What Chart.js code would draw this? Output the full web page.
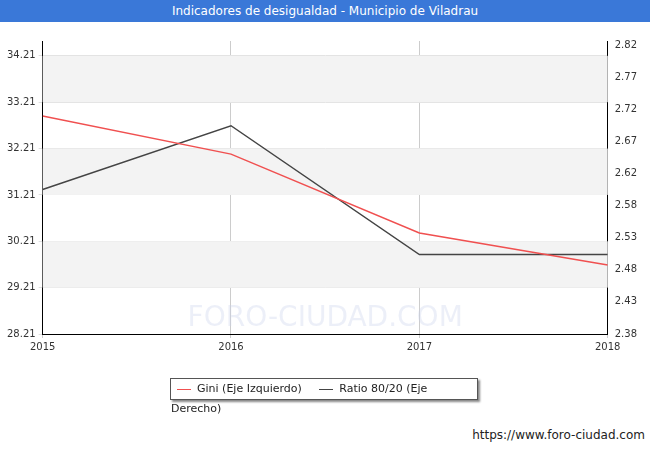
<!DOCTYPE html><html><head><script src="https://cdn.jsdelivr.net/npm/chart.js@4"></script>
<style>body{margin:0;width:650px;height:450px;background:#fff;font-family:"DejaVu Sans",sans-serif;position:relative;overflow:hidden}
#t{position:absolute;left:0;top:0;width:650px;height:22px;background:#3a78d8;color:#fff;font-size:12px;text-align:center;line-height:22px}
#f{position:absolute;right:5px;top:428px;font-size:12px;color:#222}
#c{position:absolute;left:0;top:22px}
#lg{position:absolute;left:170px;top:378px;width:306px;height:20px;border:1px solid #555;box-shadow:2px 2px 2px #888;font-size:11px;color:#222;line-height:20px;background:#fff}
#lg span{display:inline-block;width:14px;height:0;border-top:1.5px solid;vertical-align:middle;margin:0 6px 0 6px}</style></head><body>
<div id="t">Indicadores de desigualdad - Municipio de Viladrau</div>
<div id="c"><canvas id="cv" width="650" height="400"></canvas></div>
<div id="lg"><span style="border-color:#f05050"></span>Gini (Eje Izquierdo) <span style="border-color:#444;margin-left:14px"></span>Ratio 80/20 (Eje Derecho)</div>
<div id="f">https://www.foro-ciudad.com</div>
<script>
const years=[2015,2016,2017,2018];
const gini=[32.91,32.09,30.39,29.70];
const ratio=[2.600,2.697,2.501,2.501];
const leftTicks=[28.21,29.21,30.21,31.21,32.21,33.21,34.21];
const rightTicks=[2.38,2.43,2.48,2.53,2.58,2.62,2.67,2.72,2.77,2.82];
const bands={id:'bands',beforeDatasetsDraw(c){const {ctx,chartArea:a,scales:{y}}=c;ctx.save();ctx.fillStyle='#f3f3f3';
for(const [lo,hi] of [[29.21,30.21],[31.21,32.21],[33.21,34.21]]){const t=y.getPixelForValue(hi),b=y.getPixelForValue(lo);ctx.fillRect(a.left,t,a.right-a.left,b-t);}
ctx.font='28px "DejaVu Sans"';ctx.fillStyle='rgba(200,210,235,0.35)';ctx.textAlign='center';ctx.fillText('FORO-CIUDAD.COM',(a.left+a.right)/2,a.bottom-8);ctx.restore();}};
const lin=(mn,mx,n)=>Array.from({length:n},(_,i)=>mn+i*(mx-mn)/(n-1));
const f={size:10,family:'DejaVu Sans'};
new Chart(document.getElementById('cv'),{type:'line',
data:{datasets:[
{label:'Gini (Eje Izquierdo)',data:years.map((x,i)=>({x,y:gini[i]})),borderColor:'#f05050',borderWidth:1.5,pointRadius:0,yAxisID:'y',tension:0},
{label:'Ratio 80/20 (Eje Derecho)',data:years.map((x,i)=>({x,y:ratio[i]})),borderColor:'#444',borderWidth:1.5,pointRadius:0,yAxisID:'y2',tension:0}]},
options:{responsive:false,animation:false,layout:{padding:{left:4,right:10,top:19,bottom:66}},
plugins:{legend:{display:false},tooltip:{enabled:false}},
scales:{x:{type:'linear',min:2015,max:2018,afterBuildTicks:s=>{s.ticks=years.map(v=>({value:v}))},ticks:{callback:v=>String(v),font:f,color:'#333',maxRotation:0},grid:{color:'#ccc',tickLength:4},border:{color:'#000'}},
y:{min:28.21,max:34.53,afterBuildTicks:s=>{s.ticks=leftTicks.map(v=>({value:v}))},ticks:{callback:v=>v.toFixed(2),font:f,color:'#333'},grid:{color:'#e0e0e0',tickLength:4},border:{color:'#000'}},
y2:{position:'right',min:2.38,max:2.826,afterBuildTicks:s=>{s.ticks=lin(2.38,2.82,10).map(v=>({value:v}))},ticks:{callback:(v,i)=>rightTicks[i]!==undefined?rightTicks[i].toFixed(2):v.toFixed(2),font:f,color:'#333'},grid:{display:false,tickLength:4},border:{color:'#000'}}}},
plugins:[bands]});
</script></body></html>
